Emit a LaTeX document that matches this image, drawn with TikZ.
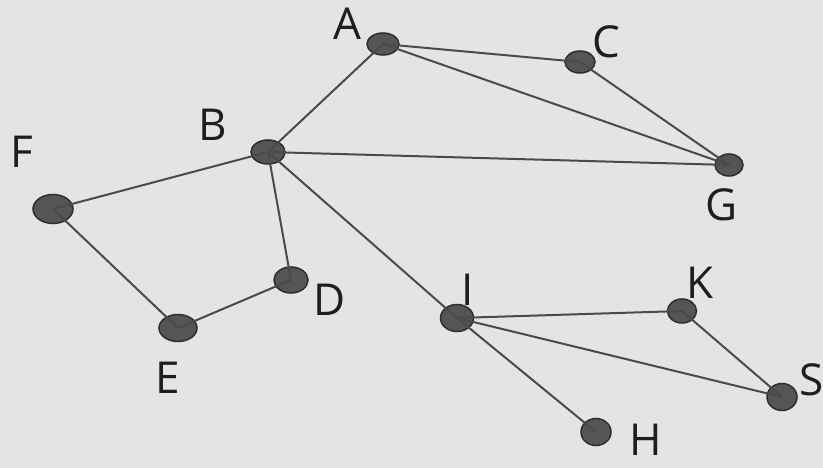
\documentclass[tikz,border=0pt]{standalone}
\usepackage{fontspec}
\setmainfont{Open Sans}
\usetikzlibrary{shapes.geometric}
\definecolor{paper}{HTML}{E4E4E2}
\definecolor{dotfill}{HTML}{555555}
\definecolor{dotline}{HTML}{2E2E2E}
\definecolor{edgec}{HTML}{4A4A4A}
\definecolor{labc}{HTML}{1E1E1E}
\tikzset{
  dot/.style={ellipse, fill=dotfill, draw=dotline, line width=1.5pt, inner sep=0pt, minimum width=#1},
  dot/.default=32pt,
  edge/.style={draw=edgec, line width=2pt},
  lab/.style={text=labc, font=\fontsize{44}{44}\selectfont, inner sep=0pt}
}
\begin{document}
\begin{tikzpicture}[x=1pt,y=-1pt]
\fill[paper] (0,0) rectangle (823,468);
\useasboundingbox (0,0) rectangle (823,468);
% nodes
\node[dot, minimum width=32pt, minimum height=22pt] (A) at (383,44) {};
\node[dot, minimum width=30pt, minimum height=22pt] (C) at (580,62) {};
\node[dot, minimum width=28pt, minimum height=22pt] (G) at (729,165) {};
\node[dot, minimum width=34pt, minimum height=24pt] (B) at (268,152) {};
\node[dot, minimum width=40pt, minimum height=29pt] (F) at (53,209) {};
\node[dot, minimum width=34pt, minimum height=26pt] (D) at (291,280) {};
\node[dot, minimum width=38pt, minimum height=27pt] (E) at (178,328) {};
\node[dot, minimum width=33pt, minimum height=27pt] (I) at (457,318) {};
\node[dot, minimum width=29pt, minimum height=24pt] (K) at (682,311) {};
\node[dot, minimum width=30pt, minimum height=27pt] (S) at (782,397) {};
\node[dot, minimum width=30pt, minimum height=27pt] (H) at (596,432) {};
% edges
\draw[edge] (A.center) -- (C.center);
\draw[edge] (A.center) -- (G.center);
\draw[edge] (C.center) -- (G.center);
\draw[edge] (A.center) -- (B.center);
\draw[edge] (B.center) -- (G.center);
\draw[edge] (B.center) -- (F.center);
\draw[edge] (B.center) -- (D.center);
\draw[edge] (B.center) -- (I.center);
\draw[edge] (F.center) -- (E.center);
\draw[edge] (E.center) -- (D.center);
\draw[edge] (I.center) -- (K.center);
\draw[edge] (I.center) -- (S.center);
\draw[edge] (K.center) -- (S.center);
\draw[edge] (I.center) -- (H.center);
% labels
\node[lab] (lA) at (347,24) {A};
\node[lab] (lC) at (606,42) {C};
\node[lab] (lG) at (722,205) {G};
\node[lab] (lB) at (213,125) {B};
\node[lab] (lF) at (22,152) {F};
\node[lab] (lD) at (330,300) {D};
\node[lab] (lE) at (168,378) {E};
\node[lab] (lI) at (468,290) {I};
\node[lab] (lK) at (700,283) {K};
\node[lab] (lS) at (812,380) {S};
\node[lab] (lH) at (646,440) {H};
\end{tikzpicture}
\end{document}
